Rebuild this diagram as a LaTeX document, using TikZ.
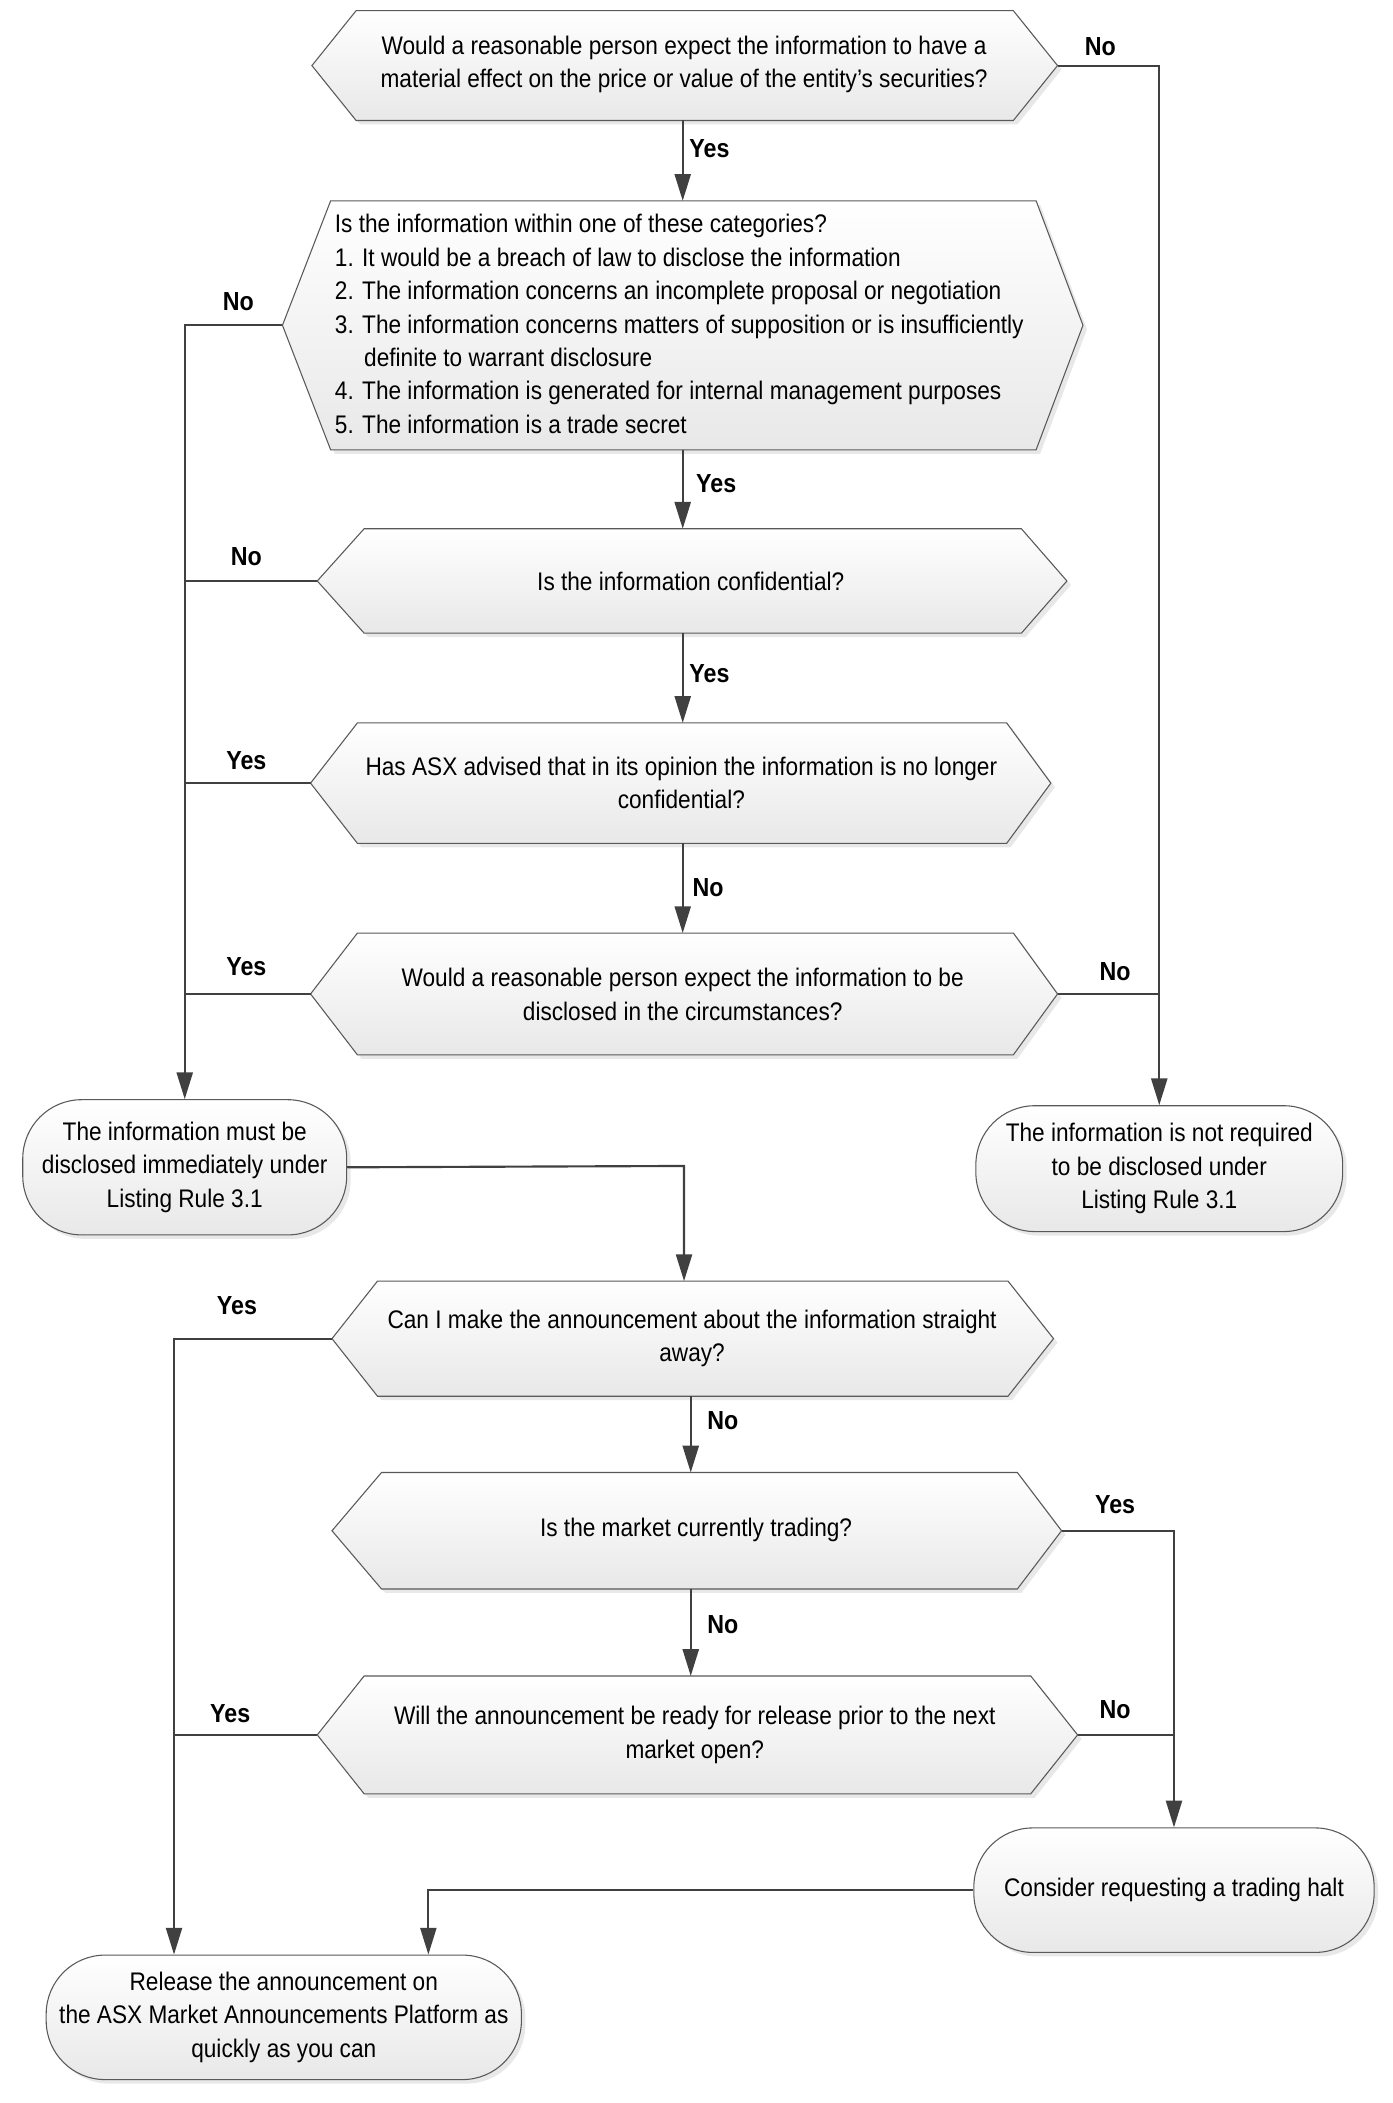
\documentclass[tikz,border=0pt]{standalone}
\usepackage{fontspec}
\setmainfont[FakeStretch=0.89]{Liberation Sans}
\usetikzlibrary{arrows.meta,shadows,calc}

\tikzset{
  shapestyle/.style={draw=gray!70!black, line width=0.8pt, top color=white, bottom color=gray!18,
    drop shadow={opacity=0.18, shadow xshift=3pt, shadow yshift=-3pt}},
  txt/.style={font=\fontsize{19}{25}\selectfont, align=center, inner sep=0pt},
  lbl/.style={font=\fontsize{19.5}{22}\selectfont\bfseries, inner sep=0pt},
  conn/.style={draw=black!75, line width=1.6pt},
  arr/.style={conn, -{Triangle[length=20pt,width=12pt]}},
  term/.style={shapestyle, rectangle, rounded corners=44pt, align=center, inner sep=0pt,
    font=\fontsize{19}{25}\selectfont},
}

% name, xl, xtl, xtr, xr, ytop, ybot, xmid
\newcommand{\hexshape}[8]{%
  \path[shapestyle] (#2,{(#6+#7)/2}) -- (#3,#6) -- (#4,#6) -- (#5,{(#6+#7)/2}) -- (#4,#7) -- (#3,#7) -- cycle;
  \coordinate (#1-w) at (#2,{(#6+#7)/2});
  \coordinate (#1-e) at (#5,{(#6+#7)/2});
  \coordinate (#1-n) at (#8,#6);
  \coordinate (#1-s) at (#8,#7);
}

\begin{document}
\begin{tikzpicture}[x=1pt,y=-1pt]
\useasboundingbox (0,0) rectangle (1040,1571);

% decision shapes
\hexshape{d1}{233}{266}{757}{790}{8}{90}{510}
\hexshape{d2}{211}{247}{774}{809}{150}{336}{510}
\hexshape{d3}{237}{272}{763}{797}{395}{473}{510}
\hexshape{d4}{232}{267}{752}{785}{540}{630}{510}
\hexshape{d5}{232}{267}{757}{790}{697}{788}{510}
\hexshape{d6}{248}{282}{753}{787}{957}{1043}{516}
\hexshape{d7}{248}{285}{760}{793}{1100}{1187}{516}
\hexshape{d8}{237}{272}{770}{805}{1252}{1340}{516}

% texts of decisions
\node[txt] (t1) at (511,48) {Would a reasonable person expect the information to have a\\material effect on the price or value of the entity’s securities?};
\node[txt, align=left, anchor=west] (t2) at (250,242) {Is the information within one of these categories?\\
1. It would be a breach of law to disclose the information\\
2. The information concerns an incomplete proposal or negotiation\\
3. The information concerns matters of supposition or is insufficiently\\
\hspace*{1.15em}definite to warrant disclosure\\
4. The information is generated for internal management purposes\\
5. The information is a trade secret};
\node[txt] (t3) at (516,434) {Is the information confidential?};
\node[txt] (t4) at (509,585) {Has ASX advised that in its opinion the information is no longer\\confidential?};
\node[txt] (t5) at (510,743) {Would a reasonable person expect the information to be\\disclosed in the circumstances?};
\node[txt] (t6) at (517,1000) {Can I make the announcement about the information straight\\away?};
\node[txt] (t7) at (520,1143) {Is the market currently trading?};
\node[txt] (t8) at (519,1296) {Will the announcement be ready for release prior to the next\\market open?};

% terminals
\node[term, minimum width=242pt, minimum height=101pt] (e1) at (138,872) {The information must be\\disclosed immediately under\\Listing Rule 3.1};
\node[term, minimum width=274pt, minimum height=94pt] (e2) at (866,873) {The information is not required\\to be disclosed under\\Listing Rule 3.1};
\node[term, minimum width=299pt, minimum height=93pt] (e4) at (877,1412) {Consider requesting a trading halt};
\node[term, minimum width=355pt, minimum height=93pt] (e3) at (212,1507) {Release the announcement on\\the ASX Market Announcements Platform as\\quickly as you can};

\coordinate (busB) at (130,1000);
\coordinate (busC) at (320,1412);
\coordinate (joinT) at (511,871);

% connectors
\draw[arr] (d1-s) -- (d2-n);
\draw[arr] (d1-e) -| (e2.north);
\draw[arr] (d2-w) -| (e1.north);
\draw[arr] (d2-s) -- (d3-n);
\draw[conn] (d3-w) -- (d3-w -| e1.north);
\draw[arr] (d3-s) -- (d4-n);
\draw[conn] (d4-w) -- (d4-w -| e1.north);
\draw[arr] (d4-s) -- (d5-n);
\draw[conn] (d5-w) -- (d5-w -| e1.north);
\draw[conn] (d5-e) -- (d5-e -| e2.north);
\draw[arr] (e1.east) -- (joinT) -- (joinT |- d6-n);
\draw[arr] (d6-w) -| (busB |- e3.north);
\draw[arr] (d6-s) -- (d7-n);
\draw[arr] (d7-e) -| (e4.north);
\draw[arr] (d7-s) -- (d8-n);
\draw[conn] (d8-w) -- (d8-w -| busB);
\draw[conn] (d8-e) -- (d8-e -| e4.north);
\draw[arr] (e4.west) -- (busC) -- (busC |- e3.north);

% labels
\node[lbl] (l1) at (530,111) {Yes};
\node[lbl] (l2) at (822,35) {No};
\node[lbl] (l3) at (178,225) {No};
\node[lbl] (l4) at (535,361) {Yes};
\node[lbl] (l5) at (184,416) {No};
\node[lbl] (l6) at (530,503) {Yes};
\node[lbl] (l7) at (184,568) {Yes};
\node[lbl] (l8) at (529,663) {No};
\node[lbl] (l9) at (184,722) {Yes};
\node[lbl] (l10) at (833,726) {No};
\node[lbl] (l11) at (177,975) {Yes};
\node[lbl] (l12) at (540,1061) {No};
\node[lbl] (l13) at (833,1124) {Yes};
\node[lbl] (l14) at (540,1214) {No};
\node[lbl] (l15) at (172,1280) {Yes};
\node[lbl] (l16) at (833,1277) {No};
\end{tikzpicture}
\end{document}
